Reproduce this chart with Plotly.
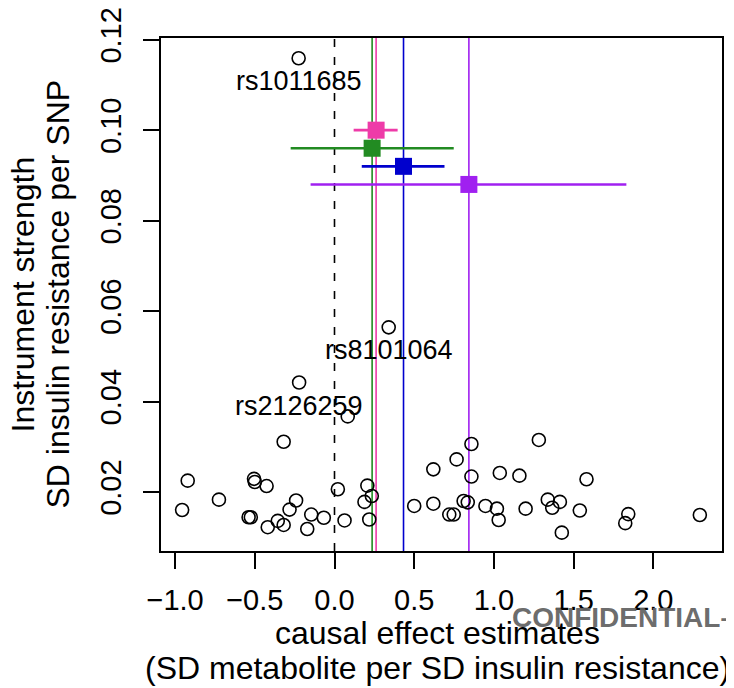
import plotly.graph_objects as go

# ---------------- data ----------------
# per-SNP causal effect estimates (x) and instrument strength (y)
snp_effect = [-0.225, 0.340, -0.222, 0.083, -0.319, 1.282, 0.859, 0.766, 0.620, 1.037,
              1.160, 0.859, 1.581, -0.921, -0.505, -0.500, -0.426, 0.021, 0.206, 0.234,
              0.188, -0.725, -0.241, -0.282, -0.956, -0.146, -0.067, -0.539, -0.525, -0.356,
              -0.319, -0.419, -0.171, 0.063, 0.218, 0.500, 0.620, 0.810, 0.836, 0.720,
              0.748, 0.947, 1.019, 1.030, 1.199, 1.338, 1.366, 1.414, 1.539, 1.426,
              1.843, 1.824, 2.292]
snp_strength = [0.1159, 0.0564, 0.0442, 0.0367, 0.0311, 0.0315, 0.0306, 0.0272, 0.0250, 0.0242,
                0.0236, 0.0234, 0.0228, 0.0225, 0.0229, 0.0222, 0.0213, 0.0206, 0.0214, 0.0191,
                0.0178, 0.0183, 0.0181, 0.0161, 0.0160, 0.0150, 0.0143, 0.0144, 0.0144, 0.0136,
                0.0127, 0.0122, 0.0118, 0.0137, 0.0139, 0.0169, 0.0174, 0.0180, 0.0177, 0.0150,
                0.0150, 0.0169, 0.0163, 0.0138, 0.0163, 0.0183, 0.0165, 0.0178, 0.0159, 0.0110,
                0.0151, 0.0131, 0.0149]

# labelled SNPs (index into the arrays above)
label_names = ["rs1011685", "rs8101064", "rs2126259"]
label_index = [0, 1, 2]

# summary causal estimates by method
methods = ["method A", "method B", "method C", "method D"]
est_value = [0.261, 0.236, 0.433, 0.843]
est_lower = [0.120, -0.275, 0.171, -0.150]
est_upper = [0.396, 0.748, 0.690, 1.831]
est_ypos = [0.100, 0.096, 0.092, 0.088]
est_colors = ["#EE3BA8", "#228B22", "#0000CD", "#A020F0"]

x_ticks = [-1.0, -0.5, 0.0, 0.5, 1.0, 1.5, 2.0]
y_ticks = [0.02, 0.04, 0.06, 0.08, 0.10, 0.12]

FONT = "Liberation Sans, Arial, Helvetica, sans-serif"

fig = go.Figure()

# per-SNP points
fig.add_trace(go.Scatter(
    x=snp_effect, y=snp_strength, mode="markers",
    marker=dict(symbol="circle-open", size=13, color="black",
                line=dict(width=1.6, color="black")),
    showlegend=False, hoverinfo="x+y"))

# method estimates with horizontal CIs
for m, v, lo, hi, yp, c in zip(methods, est_value, est_lower, est_upper, est_ypos, est_colors):
    fig.add_trace(go.Scatter(
        x=[v], y=[yp], mode="markers", name=m,
        marker=dict(symbol="square", size=17, color=c, line=dict(width=0)),
        error_x=dict(type="data", symmetric=False, array=[hi - v], arrayminus=[v - lo],
                     color=c, thickness=2.6, width=0),
        showlegend=False))

shapes = []
# vertical lines at method estimates
for v, c in zip(est_value, est_colors):
    shapes.append(dict(type="line", xref="x", yref="paper", x0=v, x1=v, y0=0, y1=1,
                       line=dict(color=c, width=1.6), layer="below"))
# null line
shapes.append(dict(type="line", xref="x", yref="paper", x0=0, x1=0, y0=0, y1=1,
                   line=dict(color="black", width=1.6, dash="8px,10px"), layer="below"))

annotations = []
for name, i in zip(label_names, label_index):
    annotations.append(dict(x=snp_effect[i], y=snp_strength[i], xref="x", yref="y",
                            text=name, showarrow=False, yshift=-23,
                            font=dict(family=FONT, size=27, color="black")))

# title (cut off at top)
annotations.append(dict(x=0.5, y=1, xref="paper", yref="paper", text="<b>valine</b>",
                        showarrow=False, yanchor="bottom", yshift=31,
                        font=dict(family=FONT, size=36, color="black")))
# y-axis title (two lines)
annotations.append(dict(x=0, y=0.5, xref="paper", yref="paper", text="Instrument strength",
                        showarrow=False, textangle=-90, xanchor="center", yanchor="middle",
                        xshift=-139, font=dict(family=FONT, size=32, color="black")))
annotations.append(dict(x=0, y=0.5, xref="paper", yref="paper",
                        text="SD insulin resistance per SNP",
                        showarrow=False, textangle=-90, xanchor="center", yanchor="middle",
                        xshift=-104, font=dict(family=FONT, size=32, color="black")))
# x-axis title (two lines)
annotations.append(dict(x=0.5, y=0, xref="paper", yref="paper", text="causal effect estimates",
                        showarrow=False, xanchor="center", yanchor="middle",
                        xshift=-4, yshift=-82, font=dict(family=FONT, size=32, color="black")))
annotations.append(dict(x=0.5, y=0, xref="paper", yref="paper",
                        text="(SD metabolite per SD insulin resistance)",
                        showarrow=False, xanchor="center", yanchor="middle",
                        xshift=-4, yshift=-117, font=dict(family=FONT, size=32, color="black")))
# watermark
annotations.append(dict(x=0, y=0, xref="paper", yref="paper", text="<b>CONFIDENTIAL–PRELIMINARY</b>",
                        showarrow=False, xanchor="left", yanchor="middle",
                        xshift=510 - 161, yshift=-(617 - 551),
                        font=dict(family=FONT, size=28, color="rgba(100,100,100,0.95)")))

# the page body adds an 8px offset; margins compensate so the plot box lands
# at the reference position in the browser window
fig.update_layout(
    width=734, height=688, autosize=False,
    margin=dict(l=153, r=20, t=30, b=145, pad=0),
    paper_bgcolor="white", plot_bgcolor="white",
    font=dict(family=FONT, size=29, color="black"),
    shapes=shapes, annotations=annotations,
    xaxis=dict(range=[-1.0885, 2.431], tickvals=x_ticks, tickformat=".1f",
               showgrid=False, zeroline=False, showline=True, mirror=True,
               linecolor="black", linewidth=1.5, ticks="outside", ticklen=16,
               tickwidth=1.5, tickcolor="black", ticklabelstandoff=6,
               ticklabeloverflow="allow", automargin=False,
               tickfont=dict(family=FONT, size=29, color="black")),
    yaxis=dict(range=[0.00694, 0.12038], tickvals=y_ticks, tickformat=".2f",
               tickangle=-90,
               showgrid=False, zeroline=False, showline=True, mirror=True,
               linecolor="black", linewidth=1.5, ticks="outside", ticklen=16,
               tickwidth=1.5, tickcolor="black", ticklabelstandoff=11,
               ticklabeloverflow="allow", automargin=False,
               tickfont=dict(family=FONT, size=29, color="black")),
)

fig.write_html("out.html")
